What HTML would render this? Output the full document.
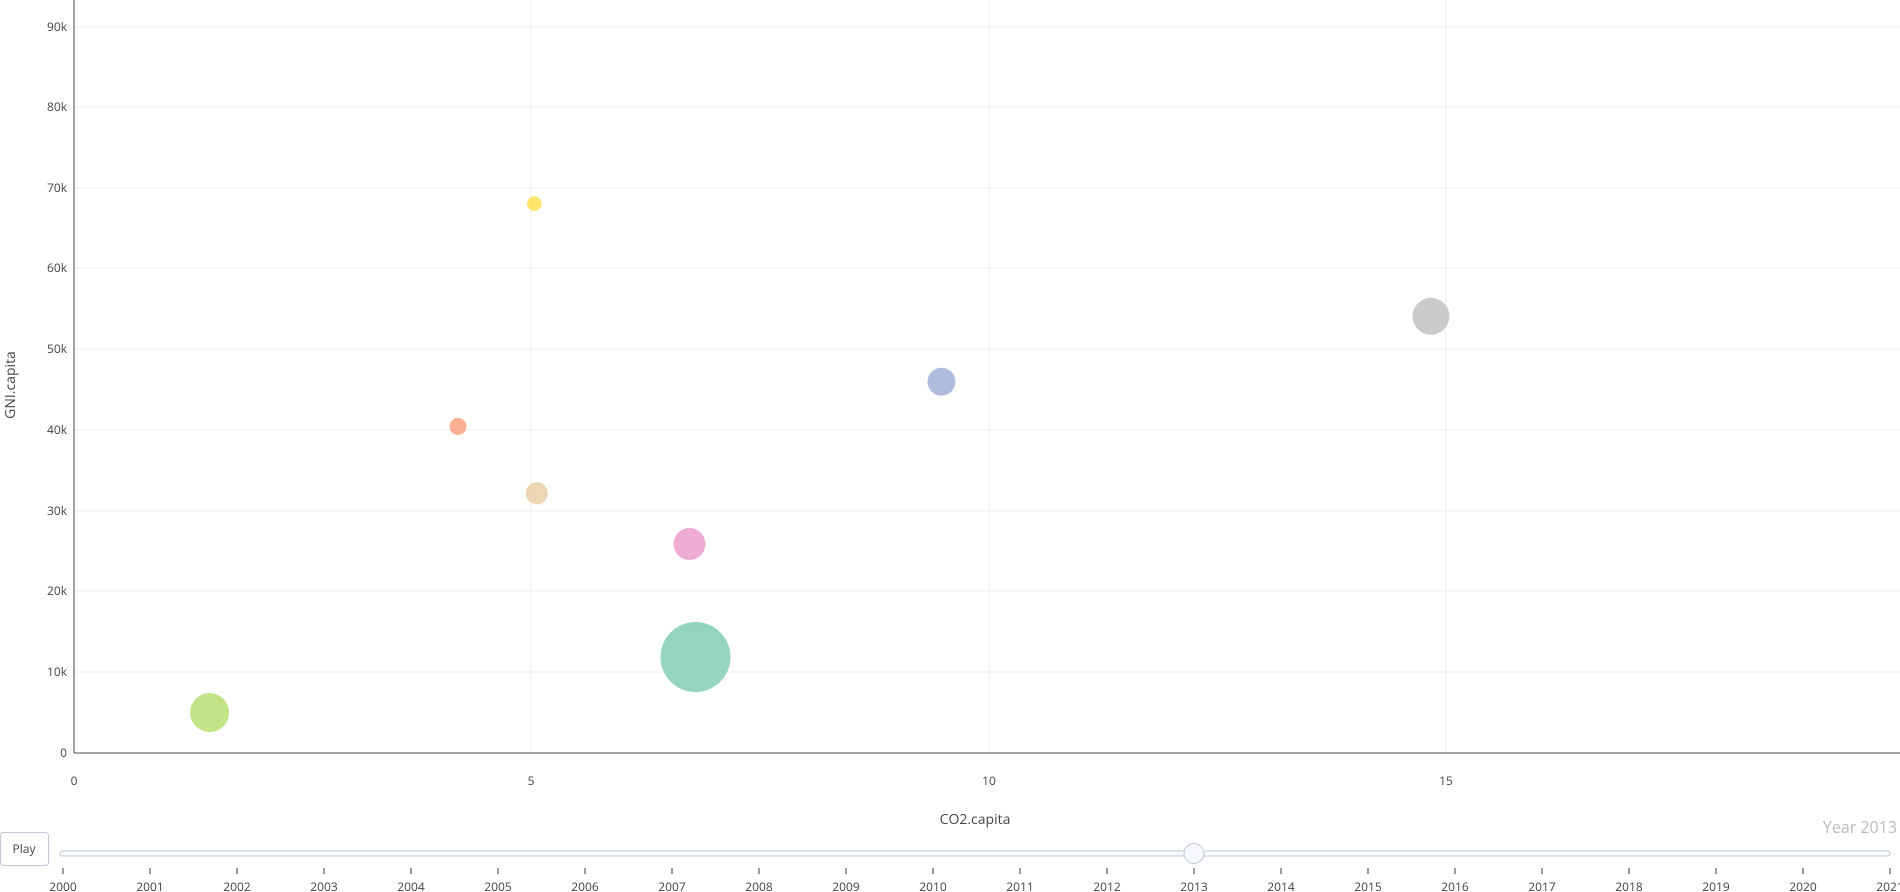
<!DOCTYPE html>
<html><head><meta charset="utf-8"><style>
html,body{margin:0;padding:0;background:#fff;}
svg{display:block;font-family:"Open Sans","Liberation Sans",sans-serif;}
</style></head><body>
<svg width="1900" height="892" viewBox="0 0 1900 892">
<g stroke="#eee" stroke-width="1">
<line x1="74" y1="672" x2="1900" y2="672"/>
<line x1="74" y1="591" x2="1900" y2="591"/>
<line x1="74" y1="511" x2="1900" y2="511"/>
<line x1="74" y1="430" x2="1900" y2="430"/>
<line x1="74" y1="349" x2="1900" y2="349"/>
<line x1="74" y1="268" x2="1900" y2="268"/>
<line x1="74" y1="188" x2="1900" y2="188"/>
<line x1="74" y1="107" x2="1900" y2="107"/>
<line x1="74" y1="27" x2="1900" y2="27"/>
<line x1="531" y1="0" x2="531" y2="753"/>
<line x1="989" y1="0" x2="989" y2="753"/>
<line x1="1446" y1="0" x2="1446" y2="753"/>
</g>
<line x1="74" y1="0" x2="74" y2="753" stroke="#444" stroke-width="1"/>
<line x1="74" y1="753" x2="1900" y2="753" stroke="#444" stroke-width="1"/>
<g font-size="12" fill="#444" text-anchor="end">
<text x="67" y="757">0</text>
<text x="67" y="676">10k</text>
<text x="67" y="595">20k</text>
<text x="67" y="515">30k</text>
<text x="67" y="434">40k</text>
<text x="67" y="353">50k</text>
<text x="67" y="272">60k</text>
<text x="67" y="192">70k</text>
<text x="67" y="111">80k</text>
<text x="67" y="31">90k</text>
</g>
<g font-size="12" fill="#444" text-anchor="middle">
<text x="74" y="785">0</text>
<text x="531" y="785">5</text>
<text x="989" y="785">10</text>
<text x="1446" y="785">15</text>
</g>
<text x="975" y="824" font-size="14" fill="#444" text-anchor="middle">CO2.capita</text>
<text transform="translate(15,385) rotate(-90)" font-size="14" fill="#444" text-anchor="middle">GNI.capita</text>
<g opacity="0.7">
<circle cx="695.5" cy="657" r="35" fill="#66c2a5"/>
<circle cx="209.6" cy="712.5" r="19.5" fill="#a6d854"/>
<circle cx="534.4" cy="203.6" r="7.3" fill="#ffd92f"/>
<circle cx="458" cy="426.5" r="8.5" fill="#fc8d62"/>
<circle cx="536.8" cy="493.2" r="11" fill="#e5c494"/>
<circle cx="689.5" cy="544" r="16" fill="#e78ac3"/>
<circle cx="941.5" cy="381.7" r="14" fill="#8da0cb"/>
<circle cx="1431" cy="316.3" r="18.5" fill="#b3b3b3"/>
</g>
<rect x="0.5" y="832.5" width="48" height="33" rx="3" fill="#fff" stroke="#bec8d9"/>
<text x="24" y="853" font-size="12" fill="#444" text-anchor="middle">Play</text>
<rect x="60" y="851" width="1830" height="5" rx="2" fill="#f8fafc" stroke="#bec8d9"/>
<g stroke="#333" stroke-width="1">
<line x1="63" y1="868" x2="63" y2="874"/><line x1="150" y1="868" x2="150" y2="874"/><line x1="237" y1="868" x2="237" y2="874"/><line x1="324" y1="868" x2="324" y2="874"/><line x1="411" y1="868" x2="411" y2="874"/><line x1="498" y1="868" x2="498" y2="874"/><line x1="585" y1="868" x2="585" y2="874"/><line x1="672" y1="868" x2="672" y2="874"/><line x1="759" y1="868" x2="759" y2="874"/><line x1="846" y1="868" x2="846" y2="874"/><line x1="933" y1="868" x2="933" y2="874"/><line x1="1020" y1="868" x2="1020" y2="874"/><line x1="1107" y1="868" x2="1107" y2="874"/><line x1="1194" y1="868" x2="1194" y2="874"/><line x1="1281" y1="868" x2="1281" y2="874"/><line x1="1368" y1="868" x2="1368" y2="874"/><line x1="1455" y1="868" x2="1455" y2="874"/><line x1="1542" y1="868" x2="1542" y2="874"/><line x1="1629" y1="868" x2="1629" y2="874"/><line x1="1716" y1="868" x2="1716" y2="874"/><line x1="1803" y1="868" x2="1803" y2="874"/><line x1="1890" y1="868" x2="1890" y2="874"/>
</g>
<g font-size="12" fill="#444" text-anchor="middle">
<text x="63" y="891">2000</text><text x="150" y="891">2001</text><text x="237" y="891">2002</text><text x="324" y="891">2003</text><text x="411" y="891">2004</text><text x="498" y="891">2005</text><text x="585" y="891">2006</text><text x="672" y="891">2007</text><text x="759" y="891">2008</text><text x="846" y="891">2009</text><text x="933" y="891">2010</text><text x="1020" y="891">2011</text><text x="1107" y="891">2012</text><text x="1194" y="891">2013</text><text x="1281" y="891">2014</text><text x="1368" y="891">2015</text><text x="1455" y="891">2016</text><text x="1542" y="891">2017</text><text x="1629" y="891">2018</text><text x="1716" y="891">2019</text><text x="1803" y="891">2020</text><text x="1890" y="891">2021</text>
</g>
<rect x="1184" y="843.5" width="20" height="20" rx="10" fill="#f6f8fc" stroke="#bec8d9"/>
<text x="1897" y="833" font-size="16" fill="#bbb" text-anchor="end">Year 2013</text>
</svg>
</body></html>
